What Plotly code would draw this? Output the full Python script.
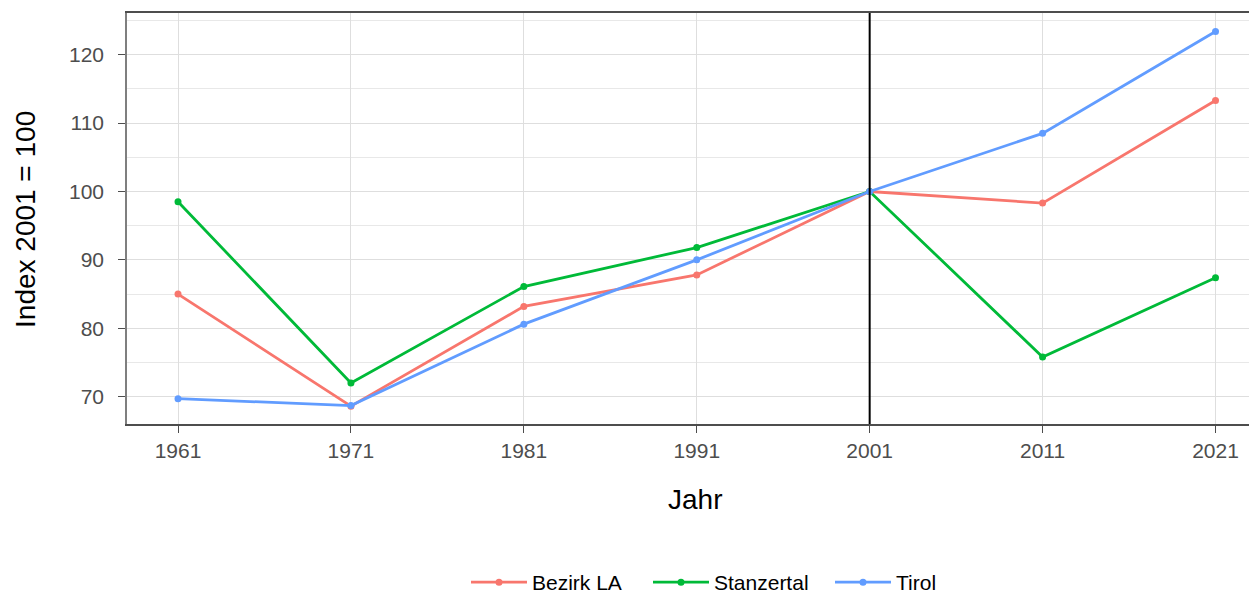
import plotly.graph_objects as go

years = [1961, 1971, 1981, 1991, 2001, 2011, 2021]
bezirk_la = [85.0, 68.6, 83.2, 87.8, 100.0, 98.3, 113.3]
stanzertal = [98.5, 72.0, 86.1, 91.8, 100.0, 75.8, 87.4]
tirol = [69.7, 68.7, 80.6, 90.0, 100.0, 108.5, 123.4]

series_names = ["Bezirk LA", "Stanzertal", "Tirol"]
series_values = [bezirk_la, stanzertal, tirol]
colors = ["#F8766D", "#00BA38", "#619CFF"]

y_ticks = [70, 80, 90, 100, 110, 120]
ref_year = 2001

FONT = "Liberation Sans, Arial, sans-serif"

fig = go.Figure()
for name, vals, col in zip(series_names, series_values, colors):
    fig.add_trace(go.Scatter(
        x=years, y=vals, name=name, mode="lines+markers",
        line=dict(color=col, width=2.8),
        marker=dict(color=col, size=7),
    ))

fig.add_vline(x=ref_year, line=dict(color="black", width=2), layer="above")

# page body has an 8px margin, so the figure is offset by (8, 8)
fig.update_layout(
    width=1249, height=610,
    margin=dict(l=119, r=0, t=5, b=194, autoexpand=False),
    paper_bgcolor="white", plot_bgcolor="white",
    font=dict(family=FONT, color="#4D4D4D"),
    showlegend=True,
    legend=dict(orientation="h", x=0.300, xanchor="left", y=-0.3856, yanchor="middle",
                font=dict(size=21, color="black", family=FONT), itemwidth=56,
                entrywidth=111, entrywidthmode="pixels"),
    annotations=[
        dict(text="Jahr", xref="paper", yref="paper", x=0.503, y=-0.1825,
             xanchor="center", yanchor="middle", showarrow=False,
             font=dict(size=28, color="black", family=FONT)),
        dict(text="Index 2001 = 100", xref="paper", yref="paper", x=-0.0894, y=0.4988,
             xanchor="center", yanchor="middle", showarrow=False, textangle=-90,
             font=dict(size=28, color="black", family=FONT)),
    ],
)

fig.update_xaxes(
    range=[1958.05, 2023.4],
    tickmode="array", tickvals=years, ticktext=[str(y) for y in years],
    tickfont=dict(size=21, color="#4D4D4D"),
    ticks="outside", ticklen=7, tickcolor="#4D4D4D", tickwidth=1,
    ticklabelstandoff=0,
    showgrid=True, gridcolor="#DEDEDE", gridwidth=1,
    showline=True, linecolor="#4D4D4D", linewidth=1.5, mirror=True,
    zeroline=False, automargin=False,
)

fig.update_yaxes(
    range=[66.0, 126.1],
    tickmode="array", tickvals=y_ticks,
    tickfont=dict(size=21, color="#4D4D4D"),
    ticks="outside", ticklen=7, tickcolor="#4D4D4D", tickwidth=1,
    ticklabelstandoff=10,
    showgrid=True, gridcolor="#DEDEDE", gridwidth=1,
    minor=dict(dtick=5, tick0=65, showgrid=True, gridcolor="#E8E8E8", gridwidth=1, ticks=""),
    showline=True, linecolor="#7F7F7F", linewidth=1.5,
    zeroline=False, automargin=False,
)

fig.write_html("out.html")
